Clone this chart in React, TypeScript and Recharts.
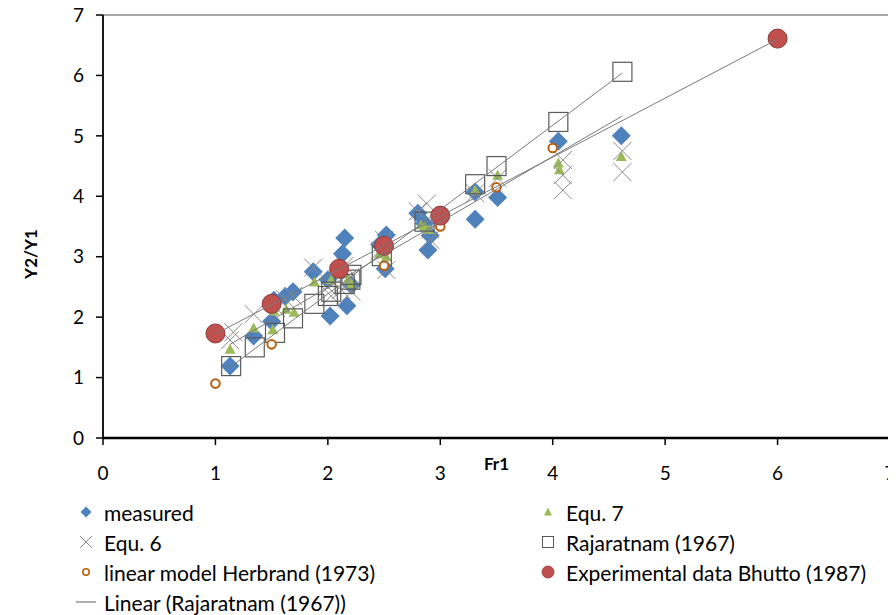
import React from "react";
import { ScatterChart, Scatter, XAxis, YAxis, ReferenceLine, Label } from "recharts";

// ---- data ----
const measuredFr = [1.13, 1.34, 1.5, 1.52, 1.62, 1.69, 1.87, 2.02, 2.0, 2.13, 2.15, 2.17, 2.21, 2.46, 2.52, 2.51, 2.8, 2.86, 2.89, 2.91, 3.31, 3.31, 3.51, 4.05, 4.61];
const measuredY = [1.19, 1.69, 1.93, 2.28, 2.34, 2.42, 2.75, 2.02, 2.62, 3.05, 3.31, 2.19, 2.53, 3.2, 3.36, 2.8, 3.72, 3.55, 3.11, 3.35, 3.62, 4.07, 3.98, 4.91, 5.0];

const equ7Fr = [1.13, 1.34, 1.51, 1.52, 1.63, 1.7, 1.88, 2.03, 2.15, 2.18, 2.21, 2.46, 2.52, 2.83, 2.86, 2.9, 3.31, 3.51, 4.05, 4.06, 4.61];
const equ7Y = [1.47, 1.82, 1.79, 2.1, 2.13, 2.08, 2.58, 2.62, 2.72, 2.62, 2.55, 3.05, 3.0, 3.53, 3.5, 3.45, 4.1, 4.35, 4.55, 4.44, 4.66];

const equ6Fr = [1.13, 1.16, 1.34, 1.54, 1.62, 1.69, 1.87, 2.0, 2.03, 2.12, 2.15, 2.21, 2.21, 2.46, 2.5, 2.52, 2.8, 2.88, 2.91, 2.91, 3.31, 3.51, 4.09, 4.09, 4.09, 4.62, 4.62];
const equ6Y = [1.62, 1.75, 2.05, 2.15, 2.3, 2.35, 2.82, 2.5, 2.35, 2.45, 2.85, 2.42, 2.65, 3.1, 3.28, 2.78, 3.75, 3.88, 3.28, 3.45, 4.05, 4.3, 4.6, 4.35, 4.1, 4.75, 4.4];

const rajFr = [1.14, 1.35, 1.53, 1.69, 1.88, 2.0, 2.03, 2.15, 2.2, 2.21, 2.48, 2.86, 3.31, 3.5, 4.05, 4.62];
const rajY = [1.19, 1.5, 1.74, 1.98, 2.22, 2.35, 2.42, 2.55, 2.62, 2.7, 3.01, 3.58, 4.2, 4.5, 5.23, 6.06];

const herbFr = [1, 1.5, 2.5, 3, 3.5, 4];
const herbY = [0.9, 1.55, 2.85, 3.5, 4.15, 4.8];

const bhuttoFr = [1, 1.5, 2.1, 2.5, 3, 6];
const bhuttoY = [1.73, 2.22, 2.8, 3.18, 3.68, 6.61];

// linear trend lines (end points)
const rajTrendFr = [1.13, 4.62];
const rajTrendY = [1.17, 6.04];
const bhuttoTrendFr = [1, 6];
const bhuttoTrendY = [1.72, 6.6];
const measTrendFr = [1.13, 4.62];
const measTrendY = [1.55, 5.33];

const axisTicks = [0, 1, 2, 3, 4, 5, 6, 7];

const zip = (xs: number[], ys: number[]) => xs.map((x, i) => ({ x, y: ys[i] }));

const measured = zip(measuredFr, measuredY);
const equ7 = zip(equ7Fr, equ7Y);
const equ6 = zip(equ6Fr, equ6Y);
const raj = zip(rajFr, rajY);
const herb = zip(herbFr, herbY);
const bhutto = zip(bhuttoFr, bhuttoY);
const rajTrend = zip(rajTrendFr, rajTrendY);
const bhuttoTrend = zip(bhuttoTrendFr, bhuttoTrendY);
const measTrend = zip(measTrendFr, measTrendY);

const BLUE = "#4F81BD";
const GREEN = "#9BBB59";
const GREYX = "#8a8a8a";
const SQ = "#5a5a5a";
const ORANGE = "#B8600F";
const RED = "#C0504D";
const LINE = "#7a7a7a";

const FONT = "Lato, 'Noto Sans', sans-serif";

const Diamond = (p: any) => {
  const { cx, cy } = p;
  const r = 9.5;
  return <polygon points={`${cx},${cy - r} ${cx + r},${cy} ${cx},${cy + r} ${cx - r},${cy}`} fill={BLUE} />;
};
const Triangle = (p: any) => {
  const { cx, cy } = p;
  return <polygon points={`${cx},${cy - 5.5} ${cx + 5.5},${cy + 4.5} ${cx - 5.5},${cy + 4.5}`} fill={GREEN} />;
};
const Cross = (p: any) => {
  const { cx, cy } = p;
  const r = 9;
  return (
    <g stroke={GREYX} strokeWidth={1}>
      <line x1={cx - r} y1={cy - r} x2={cx + r} y2={cy + r} />
      <line x1={cx - r} y1={cy + r} x2={cx + r} y2={cy - r} />
    </g>
  );
};
const Square = (p: any) => {
  const { cx, cy } = p;
  const r = 9.5;
  return <rect x={cx - r} y={cy - r} width={2 * r} height={2 * r} fill="none" stroke={SQ} strokeWidth={1.2} />;
};
const SmallCircle = (p: any) => {
  const { cx, cy } = p;
  return <circle cx={cx} cy={cy} r={4.3} fill="#fff" stroke={ORANGE} strokeWidth={2} />;
};
const BigCircle = (p: any) => {
  const { cx, cy } = p;
  return <circle cx={cx} cy={cy} r={9.5} fill={RED} stroke="#8E3A37" strokeWidth={1} />;
};
const NoShape = () => <g />;

const legendItems = [
  { label: "measured", icon: "diamond", col: 0, row: 0 },
  { label: "Equ. 7", icon: "triangle", col: 1, row: 0 },
  { label: "Equ. 6", icon: "cross", col: 0, row: 1 },
  { label: "Rajaratnam (1967)", icon: "square", col: 1, row: 1 },
  { label: "linear model Herbrand (1973)", icon: "small", col: 0, row: 2 },
  { label: "Experimental data Bhutto (1987)", icon: "big", col: 1, row: 2 },
  { label: "Linear (Rajaratnam (1967))", icon: "line", col: 0, row: 3 },
];

const LegendIcon = ({ icon }: { icon: string }) => {
  const c = 10;
  let el: React.ReactNode = null;
  if (icon === "diamond") el = <polygon points={`${c},${c - 5.5} ${c + 5.5},${c} ${c},${c + 5.5} ${c - 5.5},${c}`} fill={BLUE} />;
  if (icon === "triangle") el = <polygon points={`${c},${c - 4.5} ${c + 4},${c + 3.5} ${c - 4},${c + 3.5}`} fill={GREEN} />;
  if (icon === "cross")
    el = (
      <g stroke={GREYX} strokeWidth={1}>
        <line x1={c - 6} y1={c - 6} x2={c + 6} y2={c + 6} />
        <line x1={c - 6} y1={c + 6} x2={c + 6} y2={c - 6} />
      </g>
    );
  if (icon === "square") el = <rect x={c - 5.5} y={c - 5.5} width={11} height={11} fill="none" stroke={SQ} strokeWidth={1} />;
  if (icon === "small") el = <circle cx={c} cy={c} r={3.2} fill="#fff" stroke={ORANGE} strokeWidth={1.6} />;
  if (icon === "big") el = <circle cx={c} cy={c} r={6} fill={RED} stroke="#8E3A37" strokeWidth={0.8} />;
  if (icon === "line") el = <line x1={0} y1={c} x2={20} y2={c} stroke={LINE} strokeWidth={1.2} />;
  return (
    <svg width={20} height={20} style={{ display: "block" }}>
      {el}
    </svg>
  );
};

export default function App() {
  return (
    <div style={{ position: "relative", width: 888, height: 607, fontFamily: FONT, background: "#fff" }}>
      <ScatterChart width={888} height={607} margin={{ top: 7, right: 6, bottom: 137, left: 0 }} style={{ fontFamily: FONT }}>
        <XAxis
          type="number"
          dataKey="x"
          domain={[0, 7]}
          ticks={axisTicks}
          interval={0}
          height={40}
          tickSize={7}
          tickMargin={22}
          axisLine={{ stroke: "#000", strokeWidth: 2.5 }}
          tickLine={{ stroke: "#000", strokeWidth: 1.5 }}
          tick={{ fill: "#000", fontSize: 19 }}
        >
          <Label
            content={(props: any) => {
              const vb = props.viewBox;
              return (
                <text x={vb.x + vb.width / 2} y={vb.y + 32} textAnchor="middle" fontWeight="bold" fontSize={17} fill="#000">
                  Fr1
                </text>
              );
            }}
          />
        </XAxis>
        <YAxis
          type="number"
          dataKey="y"
          domain={[0, 7]}
          ticks={axisTicks}
          interval={0}
          width={95}
          tickSize={7}
          tickMargin={12}
          axisLine={{ stroke: "#000", strokeWidth: 1.8 }}
          tickLine={{ stroke: "#000", strokeWidth: 1.5 }}
          tick={{ fill: "#000", fontSize: 19 }}
        >
          <Label
            content={() => (
              <text
                x={0}
                y={0}
                transform={`translate(22, 246) rotate(-90)`}
                textAnchor="middle"
                dominantBaseline="central"
                fontWeight="bold"
                fontSize={17}
                fill="#000"
              >
                Y2/Y1
              </text>
            )}
          />
        </YAxis>
        <ReferenceLine y={7} stroke="#8a8a8a" strokeWidth={1.5} ifOverflow="visible" />
        <ReferenceLine x={7} stroke="#8a8a8a" strokeWidth={1.5} ifOverflow="visible" />

        <Scatter name="measured" data={measured} shape={Diamond} isAnimationActive={false} />
        <Scatter name="Equ. 7" data={equ7} shape={Triangle} isAnimationActive={false} />
        <Scatter name="Equ. 6" data={equ6} shape={Cross} isAnimationActive={false} />
        <Scatter name="Rajaratnam (1967)" data={raj} shape={Square} isAnimationActive={false} />
        <Scatter name="linear model Herbrand (1973)" data={herb} shape={SmallCircle} isAnimationActive={false} />
        <Scatter name="Experimental data Bhutto (1987)" data={bhutto} shape={BigCircle} isAnimationActive={false} />

        <Scatter data={measTrend} shape={NoShape} line={{ stroke: LINE, strokeWidth: 1 }} isAnimationActive={false} legendType="none" />
        <Scatter data={bhuttoTrend} shape={NoShape} line={{ stroke: LINE, strokeWidth: 1 }} isAnimationActive={false} legendType="none" />
        <Scatter data={rajTrend} shape={NoShape} line={{ stroke: LINE, strokeWidth: 1 }} isAnimationActive={false} legendType="none" />
      </ScatterChart>

      {legendItems.map((it) => (
        <div
          key={it.label}
          style={{
            position: "absolute",
            left: it.col === 0 ? 68 : 530,
            top: 512 - 8 + it.row * 30 - 15,
            height: 30,
            display: "flex",
            alignItems: "center",
            fontSize: 21,
            color: "#000",
            whiteSpace: "nowrap",
          }}
        >
          <LegendIcon icon={it.icon} />
          <span style={{ marginLeft: 8 }}>{it.label}</span>
        </div>
      ))}
    </div>
  );
}
